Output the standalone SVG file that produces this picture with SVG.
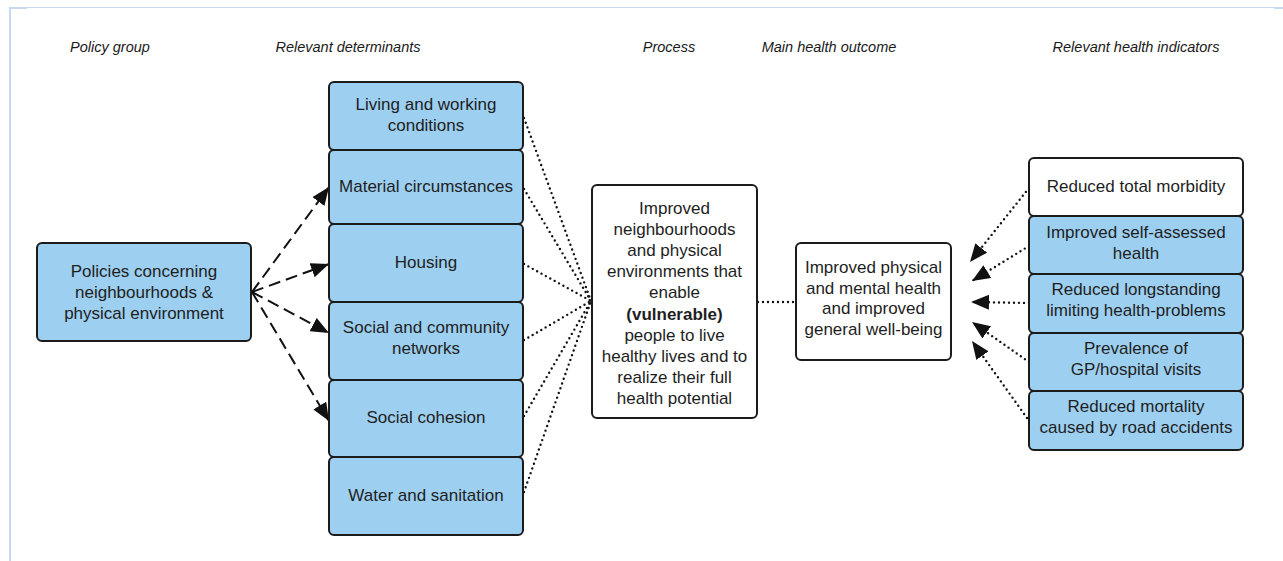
<svg xmlns="http://www.w3.org/2000/svg" width="1283" height="561" viewBox="0 0 1283 561">
  <style>
    .head { font-family: "Liberation Sans", Arial, sans-serif; font-size: 14.5px; font-style: italic; fill: #1a1a1a; text-anchor: middle; }
    .lbl { font-family: "Liberation Sans", Arial, sans-serif; font-size: 17px; fill: #1e1e1e; text-anchor: middle; }
    .box { fill: #9dcff0; stroke: #1b1b1b; stroke-width: 2; }
    .wbox { fill: #ffffff; stroke: #1b1b1b; stroke-width: 2; }
    .dash { fill: none; stroke: #111; stroke-width: 2; stroke-dasharray: 12 6; }
    .dot { fill: none; stroke: #111; stroke-width: 2.4; stroke-linecap: round; stroke-dasharray: 0 5; }
    .frame { fill: none; stroke: #c6d9ef; }
  </style>
  <defs>
    <marker id="arrow" markerUnits="userSpaceOnUse" markerWidth="19" markerHeight="15" refX="18" refY="7.5" orient="auto">
      <path d="M0,0 L18,7.5 L0,15 Z" fill="#111"/>
    </marker>
  </defs>

  <rect width="1283" height="561" fill="#ffffff"/>

  <!-- page frame -->
  <g id="frame">
    <line class="frame" x1="9" y1="7.5" x2="1283" y2="7.5" stroke-width="1"/>
    <line class="frame" x1="10" y1="7" x2="10" y2="561" stroke-width="2"/>
    <line class="frame" x1="9" y1="8" x2="27" y2="8" stroke-width="2"/>
    <line class="frame" x1="1274" y1="8" x2="1283" y2="8" stroke-width="2"/>
  </g>

  <!-- column headings -->
  <g id="headings">
    <text class="head" x="110" y="52">Policy group</text>
    <text class="head" x="348" y="52">Relevant determinants</text>
    <text class="head" x="669" y="52">Process</text>
    <text class="head" x="829" y="52">Main health outcome</text>
    <text class="head" x="1136" y="52">Relevant health indicators</text>
  </g>

  <!-- connectors -->
  <g id="connectors">
    <!-- policy to determinants -->
    <path class="dash" d="M252,292 L329,187" marker-end="url(#arrow)"/>
    <path class="dash" d="M252,292 L329,264" marker-end="url(#arrow)"/>
    <path class="dash" d="M252,292 L329,333" marker-end="url(#arrow)"/>
    <path class="dash" d="M252,292 L329,421" marker-end="url(#arrow)"/>
    <!-- determinants to process -->
    <path class="dot" d="M524,118 L591,301"/>
    <path class="dot" d="M524,189 L591,301"/>
    <path class="dot" d="M524,264 L591,301"/>
    <path class="dot" d="M524,340 L591,301"/>
    <path class="dot" d="M524,416 L591,301"/>
    <path class="dot" d="M524,492 L591,301"/>
    <!-- process to outcome -->
    <path class="dot" d="M758,302 L796,302"/>
    <!-- indicators to outcome -->
    <path class="dot" d="M1029,188 L970,262" marker-end="url(#arrow)"/>
    <path class="dot" d="M1029,246 L972,281" marker-end="url(#arrow)"/>
    <path class="dot" d="M1029,303 L971,302" marker-end="url(#arrow)"/>
    <path class="dot" d="M1029,362 L972,322" marker-end="url(#arrow)"/>
    <path class="dot" d="M1027,418 L972,341" marker-end="url(#arrow)"/>
  </g>

  <!-- policy group -->
  <g id="policy">
    <rect class="box" x="37" y="243" width="214" height="98" rx="5"/>
    <text class="lbl" x="144" y="277">Policies concerning</text>
    <text class="lbl" x="144" y="298">neighbourhoods &amp;</text>
    <text class="lbl" x="144" y="319">physical environment</text>
  </g>

  <!-- determinants -->
  <g id="det-living">
    <rect class="box" x="329" y="82" width="194" height="68" rx="5"/>
    <text class="lbl" x="426" y="110">Living and working</text>
    <text class="lbl" x="426" y="131">conditions</text>
  </g>
  <g id="det-material">
    <rect class="box" x="329" y="150" width="194" height="74" rx="5"/>
    <text class="lbl" x="426" y="192">Material circumstances</text>
  </g>
  <g id="det-housing">
    <rect class="box" x="329" y="224" width="194" height="78" rx="5"/>
    <text class="lbl" x="426" y="268">Housing</text>
  </g>
  <g id="det-community">
    <rect class="box" x="329" y="302" width="194" height="78" rx="5"/>
    <text class="lbl" x="426" y="333">Social and community</text>
    <text class="lbl" x="426" y="354">networks</text>
  </g>
  <g id="det-cohesion">
    <rect class="box" x="329" y="380" width="194" height="77" rx="5"/>
    <text class="lbl" x="426" y="423">Social cohesion</text>
  </g>
  <g id="det-water">
    <rect class="box" x="329" y="457" width="194" height="78" rx="5"/>
    <text class="lbl" x="426" y="501">Water and sanitation</text>
  </g>

  <!-- process -->
  <g id="process">
    <rect class="wbox" x="592" y="185" width="165" height="233" rx="5"/>
    <text class="lbl" x="674.5" y="214">Improved</text>
    <text class="lbl" x="674.5" y="235">neighbourhoods</text>
    <text class="lbl" x="674.5" y="256">and physical</text>
    <text class="lbl" x="674.5" y="277">environments that</text>
    <text class="lbl" x="674.5" y="298">enable</text>
    <text class="lbl" x="674.5" y="320" font-weight="bold">(vulnerable)</text>
    <text class="lbl" x="674.5" y="341">people to live</text>
    <text class="lbl" x="674.5" y="362">healthy lives and to</text>
    <text class="lbl" x="674.5" y="383">realize their full</text>
    <text class="lbl" x="674.5" y="404">health potential</text>
  </g>

  <!-- main outcome -->
  <g id="outcome">
    <rect class="wbox" x="796" y="243" width="155" height="117" rx="5"/>
    <text class="lbl" x="873.5" y="273">Improved physical</text>
    <text class="lbl" x="873.5" y="294">and mental health</text>
    <text class="lbl" x="873.5" y="314">and improved</text>
    <text class="lbl" x="873.5" y="335">general well-being</text>
  </g>

  <!-- indicators -->
  <g id="ind-morbidity">
    <rect class="wbox" x="1029" y="158" width="214" height="58" rx="5"/>
    <text class="lbl" x="1136" y="192">Reduced total morbidity</text>
  </g>
  <g id="ind-selfassessed">
    <rect class="box" x="1029" y="216" width="214" height="58" rx="5"/>
    <text class="lbl" x="1136" y="238">Improved self-assessed</text>
    <text class="lbl" x="1136" y="259">health</text>
  </g>
  <g id="ind-longstanding">
    <rect class="box" x="1029" y="274" width="214" height="59" rx="5"/>
    <text class="lbl" x="1136" y="295">Reduced longstanding</text>
    <text class="lbl" x="1136" y="316">limiting health-problems</text>
  </g>
  <g id="ind-visits">
    <rect class="box" x="1029" y="333" width="214" height="58" rx="5"/>
    <text class="lbl" x="1136" y="354">Prevalence of</text>
    <text class="lbl" x="1136" y="375">GP/hospital visits</text>
  </g>
  <g id="ind-mortality">
    <rect class="box" x="1029" y="391" width="214" height="59" rx="5"/>
    <text class="lbl" x="1136" y="412">Reduced mortality</text>
    <text class="lbl" x="1136" y="433">caused by road accidents</text>
  </g>
</svg>
